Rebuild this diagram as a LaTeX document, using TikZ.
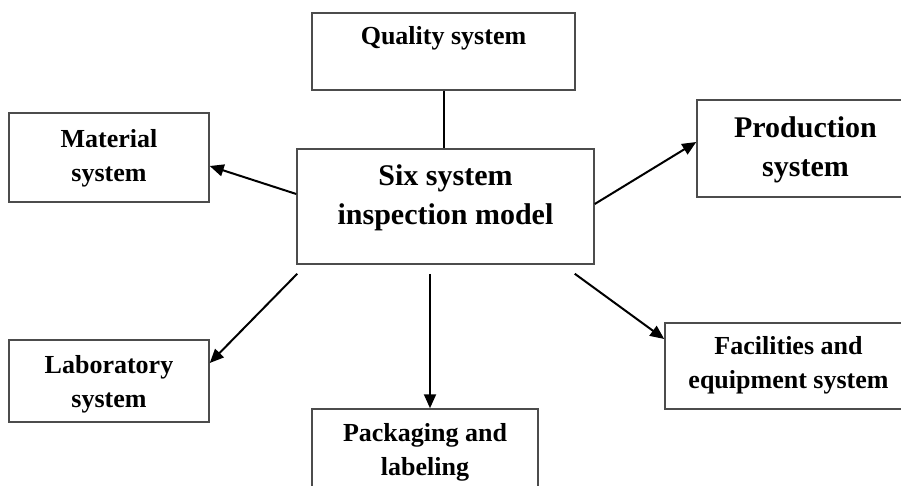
\documentclass[tikz,border=0pt]{standalone}
\usepackage{fontspec}
\setmainfont{Liberation Serif}
\usetikzlibrary{arrows.meta,positioning}

\tikzset{
  sysbox/.style={draw=black!70, line width=1.5pt, align=center, inner sep=0pt,
    font=\bfseries\fontsize{26}{34}\selectfont, text height=#1, text depth=0pt},
  bigtext/.style={font=\bfseries\fontsize{30}{39}\selectfont},
  toarrow/.style={-{Triangle[length=14pt,width=12pt]}, line width=2pt}
}

\begin{document}
\begin{tikzpicture}[x=1pt, y=-1pt]
	\clip (0,0) rectangle (901,486);
	% boxes
	\node[sysbox=0pt, text depth=13pt, minimum width=263pt, minimum height=77pt] (quality) at (443.5,51.5) {Quality system};
	\node[sysbox=37pt, bigtext, minimum width=297pt, minimum height=115pt] (model) at (445.5,206.5) {Six system\\inspection model};
	\node[sysbox=48pt, minimum width=200pt, minimum height=89pt] (material) at (109,157.5) {Material\\system};
	\node[sysbox=57pt, bigtext, minimum width=217pt, minimum height=97pt] (production) at (805.5,148.5) {Production\\system};
	\node[sysbox=52pt, minimum width=200pt, minimum height=82pt] (laboratory) at (109,381) {Laboratory\\system};
	\node[sysbox=32pt, minimum width=226pt, minimum height=100pt] (packaging) at (425,459) {Packaging and\\labeling};
	\node[sysbox=45pt, minimum width=247pt, minimum height=86pt] (facilities) at (788.5,366) {Facilities and\\equipment system};
	% connectors
	\draw[line width=2pt] (quality.south) -- ([xshift=-2pt]model.north);
	\draw[toarrow] ([yshift=12.5pt]model.west) -- ([yshift=-8.5pt]material.east);
	\draw[toarrow] ([yshift=2.5pt]model.east) -- ([yshift=6.5pt]production.west);
	\draw[toarrow] ([xshift=1pt,yshift=-9pt]model.south west) -- ([yshift=18pt]laboratory.east);
	\draw[toarrow] ([xshift=-15.5pt,yshift=-9pt]model.south) -- ([xshift=5pt]packaging.north);
	\draw[toarrow] ([xshift=-20pt,yshift=-9pt]model.south east) -- ([yshift=27pt]facilities.west);
\end{tikzpicture}
\end{document}
